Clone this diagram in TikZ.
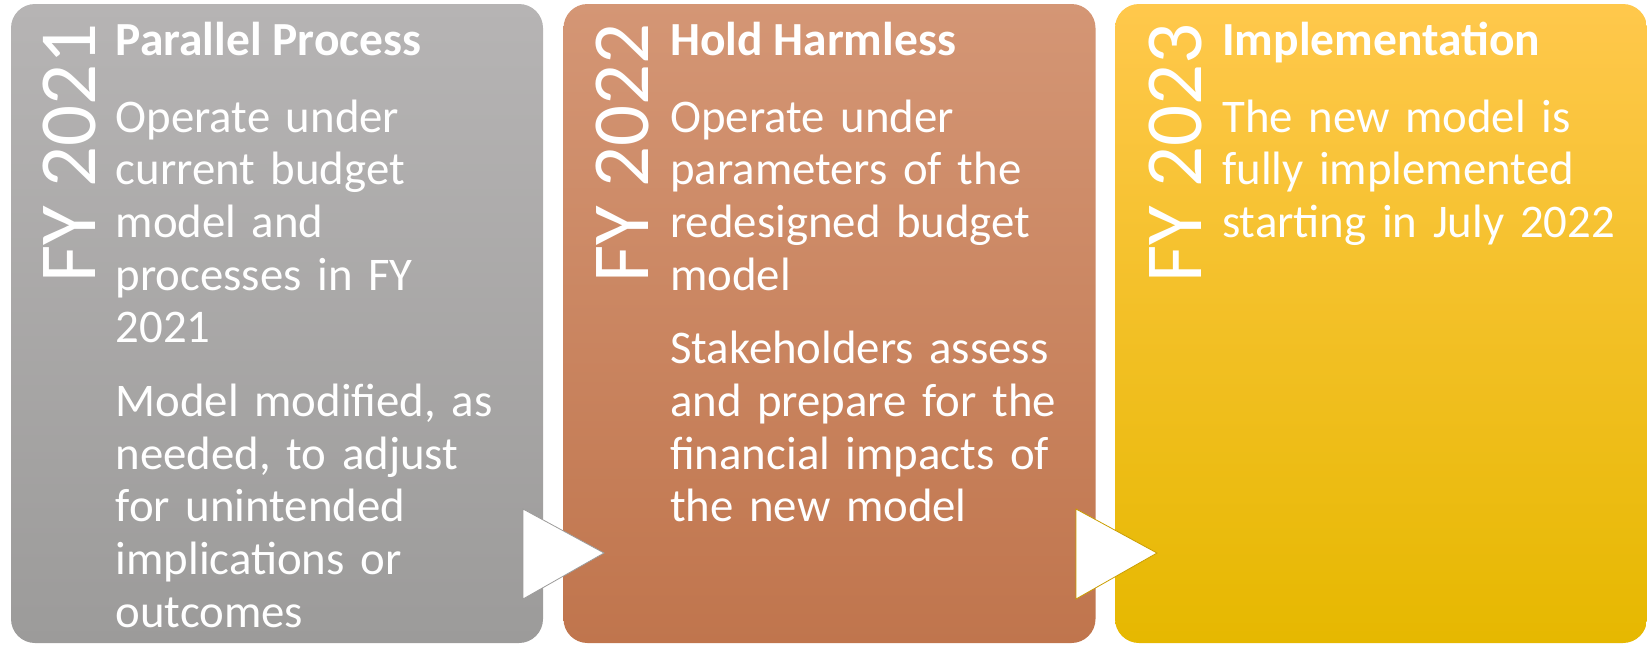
\documentclass[tikz,border=0pt]{standalone}
\usepackage{fontspec}
\setmainfont{Carlito}
\begin{document}
\begin{tikzpicture}[x=1pt,y=-1pt,
  panel/.style={rectangle, rounded corners=24pt, minimum width=532pt, minimum height=639pt, inner sep=0pt, draw=none},
  yearlbl/.style={rotate=90, anchor=base west, inner sep=0pt, text=white, font=\fontsize{81}{84}\selectfont},
  titlelbl/.style={anchor=base west, inner sep=0pt, text=white, font=\fontsize{47.5}{52}\selectfont\bfseries},
  bodylbl/.style={anchor=base west, inner sep=0pt, text=white, text width=430pt, align=left, font=\fontsize{46.8}{52.7}\selectfont},
  arrowtri/.style={fill=white, line width=0.8pt}
]
\useasboundingbox (0,0) rectangle (1647,645);
\definecolor{g1}{RGB}{182,180,180}
\definecolor{g2}{RGB}{156,155,154}
\definecolor{o1}{RGB}{212,150,117}
\definecolor{o2}{RGB}{192,117,77}
\definecolor{y1}{RGB}{255,200,76}
\definecolor{y2}{RGB}{253,197,0}
\definecolor{y3}{RGB}{230,184,0}

\node[panel, top color=g1, bottom color=g2] (p1) at (277,323.5) {};
\node[panel, top color=o1, bottom color=o2] (p2) at (829.5,323.5) {};
\node[panel, top color=y1, middle color=y2, bottom color=y3] (p3) at (1381,323.5) {};

% year labels
\node[yearlbl] (y1) at (95,283) {FY 2021};
\node[yearlbl] (y2) at (648,283) {FY 2022};
\node[yearlbl] (y3) at (1201,283) {FY 2023};

% titles
\node[titlelbl] (t1) at (115.5,55) {Parallel Process};
\node[titlelbl] (t2) at (670,55) {Hold Harmless};
\node[titlelbl] (t3) at (1222,55) {Implementation};

% bodies
\node[bodylbl] (b1) at (115.5,132) {Operate under\\current budget\\model and\\processes in FY\\2021\\[21pt]Model modified, as\\needed, to adjust\\for unintended\\implications or\\outcomes};
\node[bodylbl] (b2) at (670,132) {Operate under\\parameters of the\\redesigned budget\\model\\[21pt]Stakeholders assess\\and prepare for the\\financial impacts of\\the new model};
\node[bodylbl] (b3) at (1222,132) {The new model is\\fully implemented\\starting in July 2022};

% arrows
\draw[arrowtri, draw=g2] (523,509) -- (604,553) -- (523,599) -- cycle;
\draw[arrowtri, draw=y2!80!black] (1076,509) -- (1157,553) -- (1076,599) -- cycle;
\end{tikzpicture}
\end{document}
